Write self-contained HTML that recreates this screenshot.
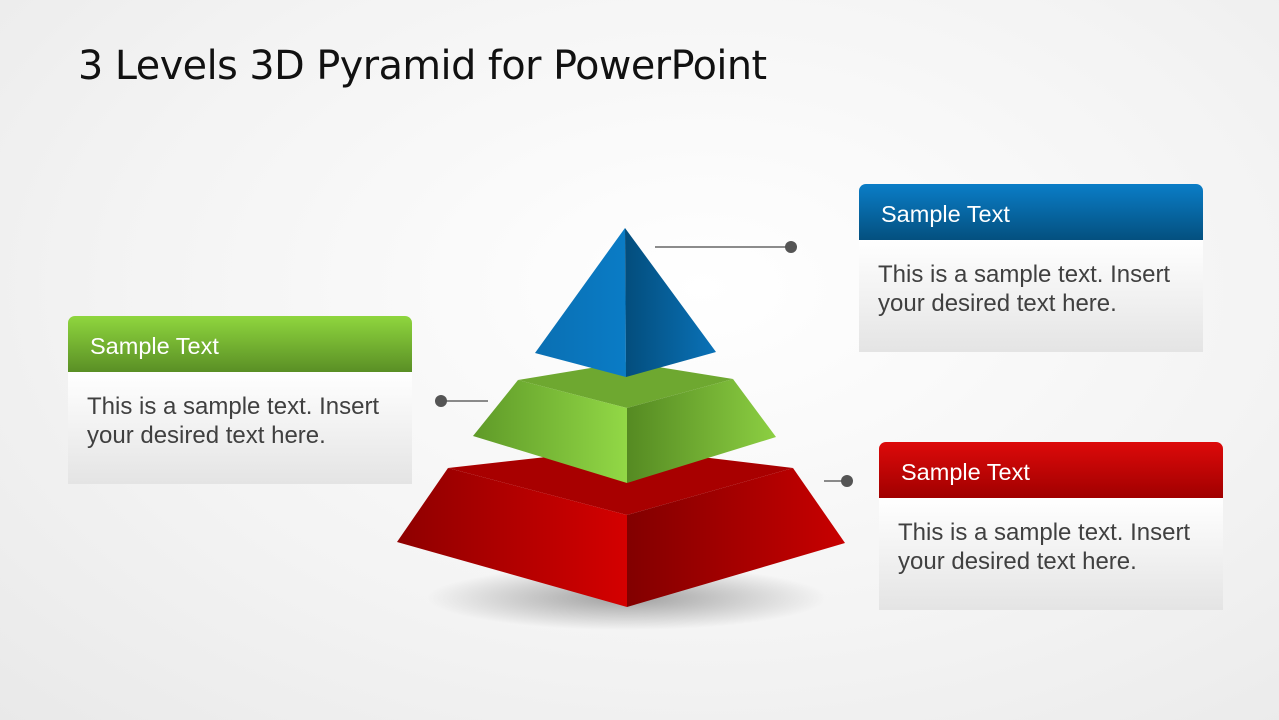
<!DOCTYPE html>
<html><head><style>
body{margin:0;width:1279px;height:720px;overflow:hidden;background:radial-gradient(ellipse at 55% 40%,#ffffff 0%,#f3f3f3 60%,#e9e9e9 100%);font-family:"Liberation Sans",sans-serif;position:relative}
h1{position:absolute;left:78px;top:43px;margin:0;font-weight:normal;font-size:39.7px;color:#111;font-family:"DejaVu Sans","Liberation Sans",sans-serif;letter-spacing:-0.5px}
.box{position:absolute;width:344px}
.hd{height:56px;border-radius:7px 7px 0 0;color:#fff;font-size:23.5px;line-height:60px;padding-left:22px;box-sizing:border-box}
.bd{background:linear-gradient(#ffffff,#e4e4e4);color:#404040;font-size:24px;line-height:29px;padding:20px 0 0 19px;box-sizing:border-box;height:112px}
</style></head><body>
<h1>3 Levels 3D Pyramid for PowerPoint</h1>
<div class="box" style="left:68px;top:316px"><div class="hd" style="background:linear-gradient(#8fd63e,#5a8f25)">Sample Text</div><div class="bd">This is a sample text. Insert<br>your desired text here.</div></div>
<div class="box" style="left:859px;top:184px"><div class="hd" style="background:linear-gradient(#0a7dc7,#04507f)">Sample Text</div><div class="bd">This is a sample text. Insert<br>your desired text here.</div></div>
<div class="box" style="left:879px;top:442px"><div class="hd" style="background:linear-gradient(#dd0a0a,#a00000)">Sample Text</div><div class="bd">This is a sample text. Insert<br>your desired text here.</div></div>
<svg width="1279" height="720" style="position:absolute;left:0;top:0">
<defs>
<radialGradient id="sh" cx="0.5" cy="0.5" r="0.5"><stop offset="0" stop-color="#000" stop-opacity="0.35"/><stop offset="1" stop-color="#000" stop-opacity="0"/></radialGradient>
<linearGradient id="rl" x1="0" x2="1"><stop offset="0" stop-color="#8e0000"/><stop offset="1" stop-color="#d40000"/></linearGradient>
<linearGradient id="rr" x1="0" x2="1"><stop offset="0" stop-color="#820000"/><stop offset="1" stop-color="#c80000"/></linearGradient>
<linearGradient id="gl" x1="0" x2="1"><stop offset="0" stop-color="#5f9a28"/><stop offset="1" stop-color="#92d846"/></linearGradient>
<linearGradient id="gr" x1="0" x2="1"><stop offset="0" stop-color="#558a22"/><stop offset="1" stop-color="#8ccf42"/></linearGradient>
<linearGradient id="bl" x1="0" x2="1"><stop offset="0" stop-color="#0a6fb2"/><stop offset="1" stop-color="#0a7cc6"/></linearGradient>
<linearGradient id="br" x1="0" x2="1"><stop offset="0" stop-color="#034d7c"/><stop offset="1" stop-color="#0a72b8"/></linearGradient>
</defs>
<ellipse cx="627" cy="598" rx="200" ry="32" fill="url(#sh)"/>
<polygon points="448,468 627,448 793,468 627,515" fill="#a80000"/>
<polygon points="448,468 397,542 627,607 627,515" fill="url(#rl)"/>
<polygon points="793,468 845,543 627,607 627,515" fill="url(#rr)"/>
<polygon points="518,380 627,362 733,379 627,408" fill="#6ea830"/>
<polygon points="518,380 473,436 627,483 627,408" fill="url(#gl)"/>
<polygon points="733,379 776,437 627,483 627,408" fill="url(#gr)"/>
<polygon points="625,228 535,353 626,377" fill="url(#bl)"/>
<polygon points="625,228 716,352 626,377" fill="url(#br)"/>
<g stroke="#666" stroke-width="1.5"><line x1="655" y1="247" x2="791" y2="247"/><line x1="441" y1="401" x2="488" y2="401"/><line x1="824" y1="481" x2="847" y2="481"/></g>
<g fill="#555"><circle cx="791" cy="247" r="6"/><circle cx="441" cy="401" r="6"/><circle cx="847" cy="481" r="6"/></g>
</svg>
</body></html>
